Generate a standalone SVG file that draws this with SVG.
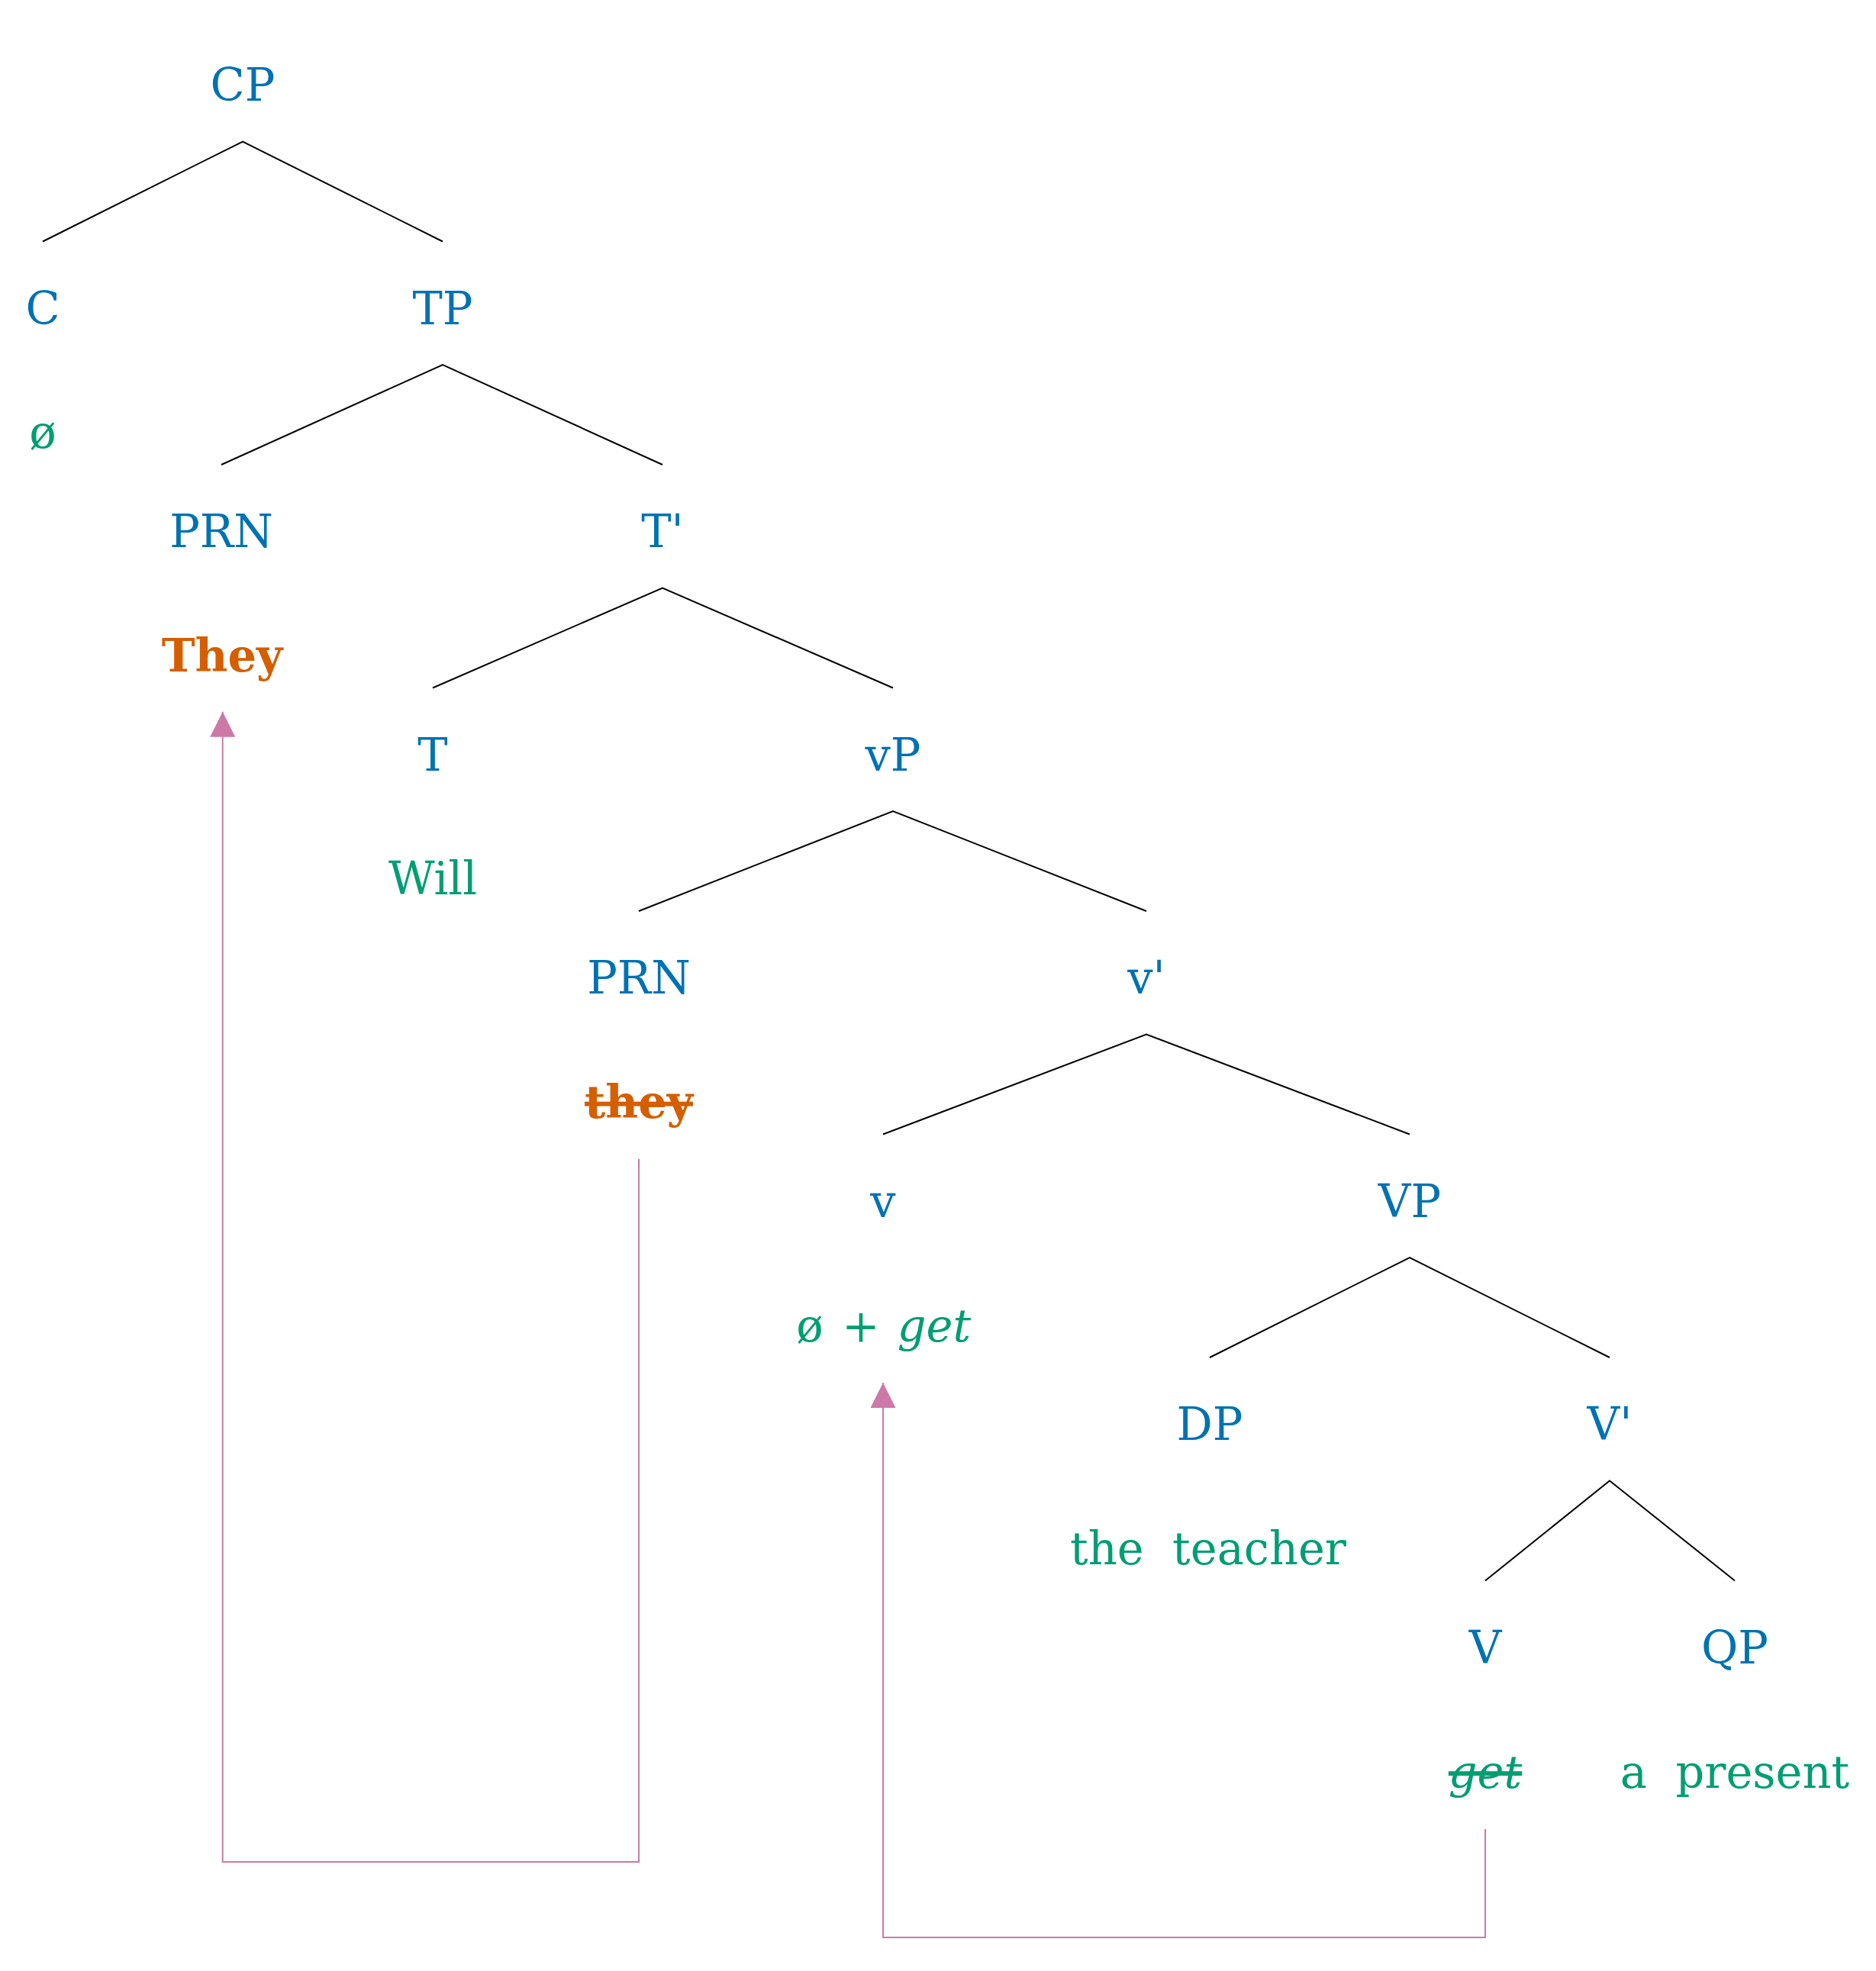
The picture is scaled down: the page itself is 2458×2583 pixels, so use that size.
<svg xmlns="http://www.w3.org/2000/svg" width="2458" height="2583" viewBox="0 0 2458 2583">
<defs>
<style>
.lbl{font-family:"DejaVu Serif","Liberation Serif",serif;font-size:59px;fill:#0072B2;text-anchor:middle}
.wd{font-family:"DejaVu Serif","Liberation Serif",serif;font-size:59px;fill:#009E73;text-anchor:middle}
.mv{font-family:"DejaVu Serif","Liberation Serif",serif;font-size:59px;fill:#D55E00;font-weight:bold;text-anchor:middle}
.it{font-style:italic}
.strike{text-decoration:line-through}
.edge{stroke:#000;stroke-width:2;fill:none}
.move{stroke:#CC79A7;stroke-width:2;fill:none;marker-end:url(#ah)}
</style>
<marker id="ah" viewBox="0 0 33 33" markerWidth="33" markerHeight="33" markerUnits="userSpaceOnUse" orient="auto" refX="33" refY="16.5">
<path d="M0,0 L33,16.5 L0,33 z" fill="#CC79A7"/>
</marker>
</defs>
<rect width="2458" height="2583" fill="#fff"/>
<g id="connectors">
<polyline class="edge" points="56,316.5 318,185.5 580,316.5"/>
<polyline class="edge" points="290,609 580,478 868,609"/>
<polyline class="edge" points="567,901.5 868,770.5 1170,901.5"/>
<polyline class="edge" points="837,1194 1170,1063 1502,1194"/>
<polyline class="edge" points="1157,1486.5 1502,1355.5 1847,1486.5"/>
<polyline class="edge" points="1585,1779 1847,1648 2109,1779"/>
<polyline class="edge" points="1946,2071.5 2109,1940.5 2273,2071.5"/>
<path class="move" d="M837,1519 V2440 H291.7 V932.7"/>
<path class="move" d="M1946,2397 V2539 H1157 V1812"/>
</g>
<g id="CP"><text class="lbl" x="318" y="132">CP</text></g>
<g id="C"><text class="lbl" x="56" y="424.5">C</text><text class="wd" x="56" y="587">ø</text></g>
<g id="TP"><text class="lbl" x="580" y="424.5">TP</text></g>
<g id="PRN1"><text class="lbl" x="290" y="717">PRN</text><text class="mv" x="291" y="880">They</text></g>
<g id="Tbar"><text class="lbl" x="868" y="717">T'</text></g>
<g id="T"><text class="lbl" x="567" y="1009.5">T</text><text class="wd" x="567" y="1172">Will</text></g>
<g id="vP"><text class="lbl" x="1170" y="1009.5">vP</text></g>
<g id="PRN2"><text class="lbl" x="837" y="1302">PRN</text><text class="mv strike" x="837" y="1465">they</text></g>
<g id="vbar"><text class="lbl" x="1502" y="1302">v'</text></g>
<g id="v"><text class="lbl" x="1157" y="1594.5">v</text><text class="wd" x="1061" y="1757.5">ø</text><text class="wd" x="1128" y="1757.5">+</text><text class="wd it" x="1224" y="1757.5">get</text></g>
<g id="VP"><text class="lbl" x="1847" y="1594.5">VP</text></g>
<g id="DP"><text class="lbl" x="1585" y="1887">DP</text><text class="wd" x="1583" y="2050" xml:space="preserve">the  teacher</text></g>
<g id="Vbar"><text class="lbl" x="2109" y="1887">V'</text></g>
<g id="V"><text class="lbl" x="1946" y="2179.5">V</text><text class="wd it strike" x="1946" y="2342.5">get</text></g>
<g id="QP"><text class="lbl" x="2273" y="2179.5">QP</text><text class="wd" x="2273" y="2342.5" xml:space="preserve">a  present</text></g>
</svg>
